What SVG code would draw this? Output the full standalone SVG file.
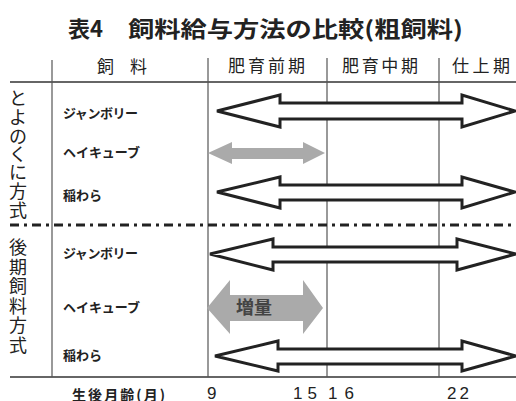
<svg xmlns="http://www.w3.org/2000/svg" width="516" height="401" viewBox="0 0 516 401">
<style>
text{font-family:"Noto Sans CJK JP","Noto Sans",sans-serif;fill:#222}
.title{font-size:22px;font-weight:bold}
.hdr{font-size:17px}
.side{font-size:18px;text-anchor:middle}
.lbl{font-size:13px;font-weight:bold}
.num{font-family:"Liberation Sans",Arial,sans-serif;font-size:17px}
.grid{stroke:#555;stroke-width:1.2;fill:none}
.hline{stroke:#666;stroke-width:1.8;fill:none}
.big{fill:#fff;stroke:#222;stroke-width:3;stroke-linejoin:miter}
.gray{fill:#aaa;stroke:none}
</style>
<rect width="516" height="401" fill="#fff"/>
<g id="title">
<text class="title" x="68" y="37">表4</text>
<text class="title" x="128" y="37" textLength="335" lengthAdjust="spacingAndGlyphs">飼料給与方法の比較(粗飼料)</text>
</g>
<g id="table">
<line class="hline" x1="10" y1="82" x2="516" y2="82"/>
<line class="hline" x1="10" y1="377" x2="516" y2="377"/>
<line class="grid" x1="52" y1="60" x2="52" y2="377"/>
<line class="grid" x1="208" y1="58" x2="208" y2="377"/>
<line class="grid" x1="327" y1="58" x2="327" y2="377"/>
<line class="grid" x1="439" y1="58" x2="439" y2="377"/>
<line x1="10" y1="225" x2="516" y2="225" stroke="#222" stroke-width="3" stroke-dasharray="9 5 3 5"/>
</g>
<g id="header">
<text class="hdr" x="97" y="73">飼</text>
<text class="hdr" x="130" y="73">料</text>
<text class="hdr" x="228" y="72" textLength="77">肥育前期</text>
<text class="hdr" x="342" y="72" textLength="76">肥育中期</text>
<text class="hdr" x="452" y="72" textLength="58">仕上期</text>
</g>
<g id="method-toyonokuni">
<text class="side"><tspan x="18" y="105">と</tspan><tspan x="18" y="124">よ</tspan><tspan x="18" y="143">の</tspan><tspan x="18" y="161">く</tspan><tspan x="18" y="179">に</tspan><tspan x="18" y="198">方</tspan><tspan x="18" y="217">式</tspan></text>
</g>
<g id="method-kouki">
<text class="side"><tspan x="18" y="254">後</tspan><tspan x="18" y="274">期</tspan><tspan x="18" y="293">飼</tspan><tspan x="18" y="313">料</tspan><tspan x="18" y="332">方</tspan><tspan x="18" y="352">式</tspan></text>
</g>
<g id="labels">
<text class="lbl" x="63" y="118" textLength="75">ジャンボリー</text>
<text class="lbl" x="63" y="157" textLength="77">ヘイキューブ</text>
<text class="lbl" x="63" y="200" textLength="39">稲わら</text>
<text class="lbl" x="63" y="258" textLength="75">ジャンボリー</text>
<text class="lbl" x="63" y="312" textLength="77">ヘイキューブ</text>
<text class="lbl" x="63" y="360" textLength="39">稲わら</text>
</g>
<g id="connectors">
<path id="a1" class="big" d="M217,111 L280,95 L280,103 L462,103 L462,95 L515,111 L462,127 L462,119 L280,119 L280,127 Z"/>
<path id="a2" class="gray" d="M208,153 L232,142 L232,148 L303,148 L303,142 L325,153 L303,164 L303,159 L232,159 L232,164 Z"/>
<path id="a3" class="big" d="M217,192 L280,177 L280,185 L462,185 L462,177 L515,192 L462,208 L462,200 L280,200 L280,208 Z"/>
<path id="a4" class="big" d="M210,254 L273,239 L273,247 L457,247 L457,239 L516,254 L457,270 L457,262 L273,262 L273,270 Z"/>
<path id="a5" class="gray" d="M207,308 L230,280 L230,295 L303,295 L303,280 L323,308 L303,334 L303,321 L230,321 L230,334 Z"/>
<path id="a6" class="big" d="M215,356 L278,341 L278,349 L462,349 L462,341 L516,356 L462,371 L462,364 L278,364 L278,371 Z"/>
</g>
<g id="increase">
<text x="236" y="314" font-size="18" font-weight="bold" style="fill:#444">増量</text>
</g>
<g id="axis">
<text class="lbl" x="72" y="400" style="font-size:14px" textLength="93">生後月齢(月)</text>
<text class="num" x="207" y="399">9</text>
<text class="num" x="293" y="399" textLength="24">15</text>
<text class="num" x="328" y="399" textLength="26">16</text>
<text class="num" x="447" y="399" textLength="22">22</text>
</g>
</svg>
